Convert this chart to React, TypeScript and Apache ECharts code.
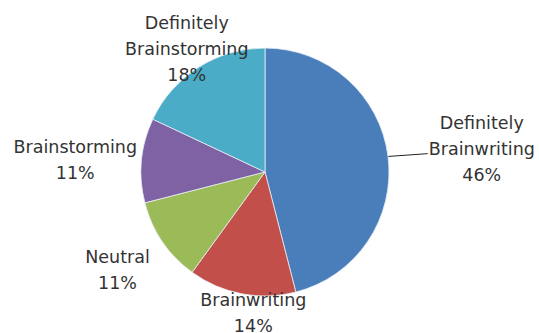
import React, { useEffect, useRef } from 'react';
import * as echarts from 'echarts';

const categories = ['Definitely Brainwriting', 'Brainwriting', 'Neutral', 'Brainstorming', 'Definitely Brainstorming'];
const values = [46, 14, 11, 11, 18];
const colors = ['#4A7EBB', '#C24F4A', '#9BBB59', '#7F62A4', '#4AACC6'];

// label placement (style only): distance of label centre from pie centre along slice mid-angle, and sideways shift
const labelRadial = [218, 141, 177, 190, 146];
const labelTangent = [4, -15, 2, -6, 0];
const showLeader = [true, false, false, false, false];

const CX = 265;
const CY = 172;
const R = 124;

export default function App() {
  const ref = useRef<HTMLDivElement>(null);

  useEffect(() => {
    if (!ref.current) return;
    const chart = echarts.init(ref.current, undefined, { renderer: 'svg' });
    const total = values.reduce((a, b) => a + b, 0);

    const option: any = {
      animation: false,
      backgroundColor: '#ffffff',
      series: [
        {
          type: 'pie',
          center: [CX, CY],
          radius: R,
          startAngle: 90,
          clockwise: true,
          avoidLabelOverlap: false,
          itemStyle: { borderColor: '#e8eef5', borderWidth: 0.8 },
          label: {
            show: true,
            position: 'outside',
            color: '#333333',
            fontFamily: 'DejaVu Sans',
            fontSize: 17.5,
            lineHeight: 26,
            align: 'center',
            formatter: (p: any) => `${String(p.name).replace('Definitely ', 'Definitely\n')}\n${p.value}%`,
          },
          labelLine: { show: true, lineStyle: { color: '#222', width: 1 } },
          emphasis: { disabled: true },
          data: categories.map((name, i) => ({
            name,
            value: values[i],
            itemStyle: { color: colors[i] },
            labelLine: { show: showLeader[i] },
          })),
          labelLayout: (params: any) => {
            const i = params.dataIndex;
            let before = 0;
            for (let k = 0; k < i; k++) before += values[k];
            const mid = ((before + values[i] / 2) / total) * Math.PI * 2;
            const ux = Math.sin(mid);
            const uy = -Math.cos(mid);
            const vx = -uy;
            const vy = ux;
            const x = CX + labelRadial[i] * ux + labelTangent[i] * vx;
            const y = CY + labelRadial[i] * uy + labelTangent[i] * vy;
            const res: any = { x, y, align: 'center', verticalAlign: 'middle' };
            if (showLeader[i]) {
              const w = params.labelRect.width;
              const sx = CX + R * ux;
              const sy = CY + R * uy;
              const ex = x - w / 2 - 1;
              const ey = y + 5;
              res.labelLinePoints = [
                [sx, sy],
                [(sx + ex) / 2, (sy + ey) / 2],
                [ex, ey],
              ];
            }
            return res;
          },
        },
      ],
    };
    chart.setOption(option);
    return () => chart.dispose();
  }, []);

  return (
    <div
      ref={ref}
      style={{ position: 'fixed', left: 0, top: 0, width: 539, height: 333, background: '#fff' }}
    />
  );
}
